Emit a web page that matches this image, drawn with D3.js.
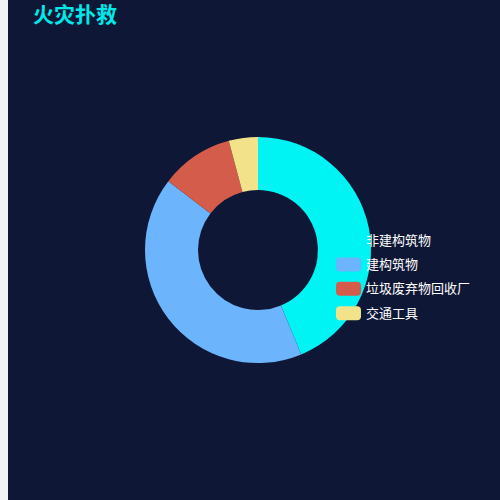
<!DOCTYPE html>
<html>
<head>
<meta charset="utf-8">
<script src="https://cdn.jsdelivr.net/npm/d3@7"></script>
<style>
  html, body { margin: 0; padding: 0; background: #f0f2f7; }
  svg { display: block; }
</style>
</head>
<body>
<svg id="chart" width="500" height="500"></svg>
<script>
const categories = ["非建构筑物", "建构筑物", "垃圾废弃物回收厂", "交通工具"];
const values = [21, 20, 5, 2];
const colors = ["#00f4f3", "#6cb4fc", "#d35d4a", "#f2e38b"];

const width = 500, height = 500;
const svg = d3.select("#chart");

// panel
svg.append("rect")
  .attr("x", 8).attr("y", 0)
  .attr("width", width - 8).attr("height", height)
  .attr("fill", "#0f1736");

svg.append("text")
  .attr("x", 33).attr("y", 22)
  .attr("fill", "#00e8e8")
  .attr("font-family", "'Noto Sans CJK SC', sans-serif")
  .attr("font-weight", "bold")
  .attr("font-size", 21)
  .text("火灾扑救");

const pie = d3.pie().sort(null).value(d => d.value);
const arc = d3.arc().innerRadius(60).outerRadius(113);
const data = categories.map((c, i) => ({ name: c, value: values[i] }));

const color = d3.scaleOrdinal().domain(categories).range(colors);

svg.append("g")
  .attr("transform", "translate(258,250)")
  .selectAll("path")
  .data(pie(data))
  .join("path")
  .attr("d", arc)
  .attr("fill", d => color(d.data.name));

// legend
const legend = svg.append("g")
  .attr("transform", "translate(336,240)");

const item = legend.selectAll("g")
  .data(categories)
  .join("g")
  .attr("transform", (d, i) => `translate(0,${i * 24.4})`);

item.append("rect")
  .attr("x", 0).attr("y", -7)
  .attr("width", 25).attr("height", 14)
  .attr("rx", 4)
  .attr("fill", d => color(d));

item.append("text")
  .attr("x", 30).attr("y", 0)
  .attr("dy", "0.36em")
  .attr("fill", "#ffffff")
  .attr("font-family", "'Noto Sans CJK SC', sans-serif")
  .attr("font-size", 13)
  .text(d => d);
</script>
</body>
</html>
